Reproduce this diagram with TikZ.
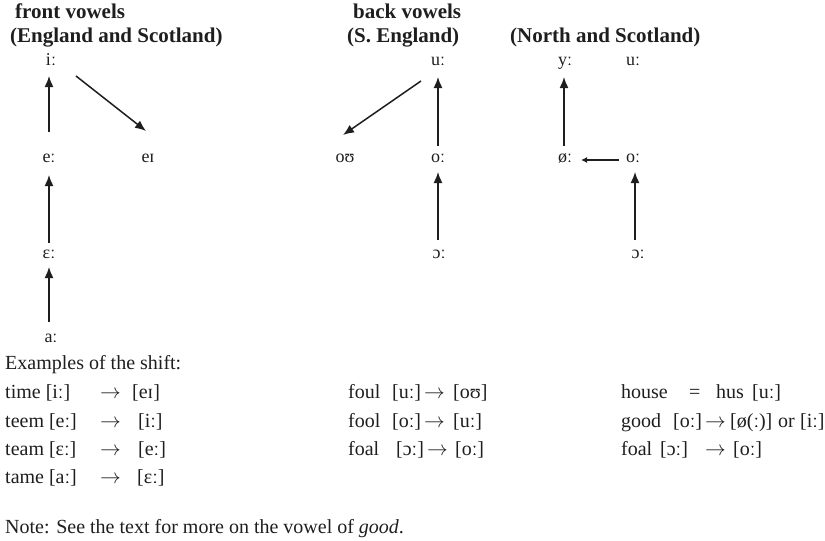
\documentclass[tikz,border=0pt]{standalone}
\usepackage{fontspec}
\setmainfont{Liberation Serif}
\usetikzlibrary{arrows.meta,calc}
\definecolor{ink}{HTML}{1E1E1E}
\newcommand\bodysz{\fontsize{20}{24}\selectfont}
\newcommand\hdsz{\fontsize{21}{25}\selectfont\bfseries}
\newcommand\vsz{\fontsize{18}{22}\selectfont}
\tikzset{
  hd/.style={anchor=base west, inner sep=0pt, font=\hdsz, text=ink},
  vw/.style={anchor=base, inner sep=0pt, font=\vsz, text=ink},
  tx/.style={anchor=base west, inner sep=0pt, font=\bodysz, text=ink},
  arr/.style={draw=ink, line width=1.5pt, -{Latex[length=11pt,width=9pt]}},
  sarr/.style={draw=ink, line width=1.5pt, -{Latex[length=6pt,width=6pt]}}
}
\begin{document}
\begin{tikzpicture}[x=1pt,y=-1pt]
\useasboundingbox (0,0) rectangle (825,541);
% headers
\node[hd] (h1) at (15,18) {front vowels};
\node[hd] (h2) at (10,42) {(England and Scotland)};
\node[hd] (h3) at (353,18) {back vowels};
\node[hd] (h4) at (347,42) {(S. England)};
\node[hd] (h5) at (510,42) {(North and Scotland)};
% front vowels
\node[vw] (fi) at (51,65) {iː};
\node[vw] (fe) at (49,162) {eː};
\node[vw] (fei) at (148,162) {eɪ};
\node[vw] (feps) at (49,258) {ɛː};
\node[vw] (fa) at (51,342) {aː};
% back vowels
\node[vw] (bu) at (438,65) {uː};
\node[vw] (bou) at (345,162) {oʊ};
\node[vw] (bo) at (438,162) {oː};
\node[vw] (bc) at (439,258) {ɔː};
% north
\node[vw] (ny) at (565,65) {yː};
\node[vw] (nu) at (633,65) {uː};
\node[vw] (noe) at (565,162) {øː};
\node[vw] (no) at (633,162) {oː};
\node[vw] (nc) at (638,258) {ɔː};
% arrows
\draw[arr] ($(fe.base)+(0,-30)$) -- ($(fe.base |- fi.base)+(0,11)$);
\draw[arr] ($(fi.base)+(25,11)$) -- ($(fei.base)+(-2,-31)$);
\draw[arr] ($(feps.base)+(0,-15)$) -- ($(feps.base |- fe.base)+(0,13)$);
\draw[arr] ($(feps.base |- fa.base)+(0,-20)$) -- ($(feps.base)+(0,9)$);
\draw[arr] ($(bo.base)+(0,-16)$) -- ($(bo.base |- bu.base)+(0,12)$);
\draw[arr] ($(bu.base)+(-17,16)$) -- ($(bou.base)+(-2,-27)$);
\draw[arr] ($(bo.base |- bc.base)+(0,-18)$) -- ($(bo.base)+(0,10)$);
\draw[arr] ($(noe.base)+(-1,-16)$) -- ($(noe.base |- ny.base)+(-1,12)$);
\draw[sarr] ($(no.base)+(-14,-2)$) -- ($(noe.base)+(16,-2)$);
\draw[arr] ($(nc.base)+(-3,-18)$) -- ($(nc.base |- no.base)+(-3,10)$);
% examples
\node[tx] (ex) at (5,369) {Examples of the shift:};
\node[tx] (r1a) at (5,398) {time [iː]};
\node[tx] (r1b) at (100,398) {$\rightarrow$};
\node[tx] (r1c) at (132,398) {[eɪ]};
\node[tx] (r2a) at (5,427) {teem [eː]};
\node[tx] (r2b) at (100,427) {$\rightarrow$};
\node[tx] (r2c) at (138,427) {[iː]};
\node[tx] (r3a) at (5,455) {team [ɛː]};
\node[tx] (r3b) at (100,455) {$\rightarrow$};
\node[tx] (r3c) at (138,455) {[eː]};
\node[tx] (r4a) at (5,483) {tame [aː]};
\node[tx] (r4b) at (100,483) {$\rightarrow$};
\node[tx] (r4c) at (137,483) {[ɛː]};
% column 2
\node[tx] (s1a) at (348,398) {foul};
\node[tx] (s1b) at (392,398) {[uː]};
\node[tx] (s1c) at (424,398) {$\rightarrow$};
\node[tx] (s1d) at (453,398) {[oʊ]};
\node[tx] (s2a) at (348,427) {fool};
\node[tx] (s2b) at (392,427) {[oː]};
\node[tx] (s2c) at (424,427) {$\rightarrow$};
\node[tx] (s2d) at (453,427) {[uː]};
\node[tx] (s3a) at (348,455) {foal};
\node[tx] (s3b) at (396,455) {[ɔː]};
\node[tx] (s3c) at (427,455) {$\rightarrow$};
\node[tx] (s3d) at (455,455) {[oː]};
% column 3
\node[tx] (n1a) at (621,398) {house};
\node[tx] (n1b) at (689,398) {=};
\node[tx] (n1c) at (716,398) {hus};
\node[tx] (n1d) at (752,398) {[uː]};
\node[tx] (n2a) at (621,427) {good};
\node[tx] (n2b) at (673,427) {[oː]};
\node[tx] (n2c) at (705,427) {$\rightarrow$};
\node[tx] (n2d) at (730,427) {[ø(ː)]};
\node[tx] (n2e) at (778,427) {or};
\node[tx] (n2f) at (800,427) {[iː]};
\node[tx] (n3a) at (621,455) {foal};
\node[tx] (n3b) at (660,455) {[ɔː]};
\node[tx] (n3c) at (705,455) {$\rightarrow$};
\node[tx] (n3d) at (733,455) {[oː]};
% note
\node[tx] (note) at (5,533) {Note: See the text for more on the vowel of \textit{good}.};
\end{tikzpicture}
\end{document}
